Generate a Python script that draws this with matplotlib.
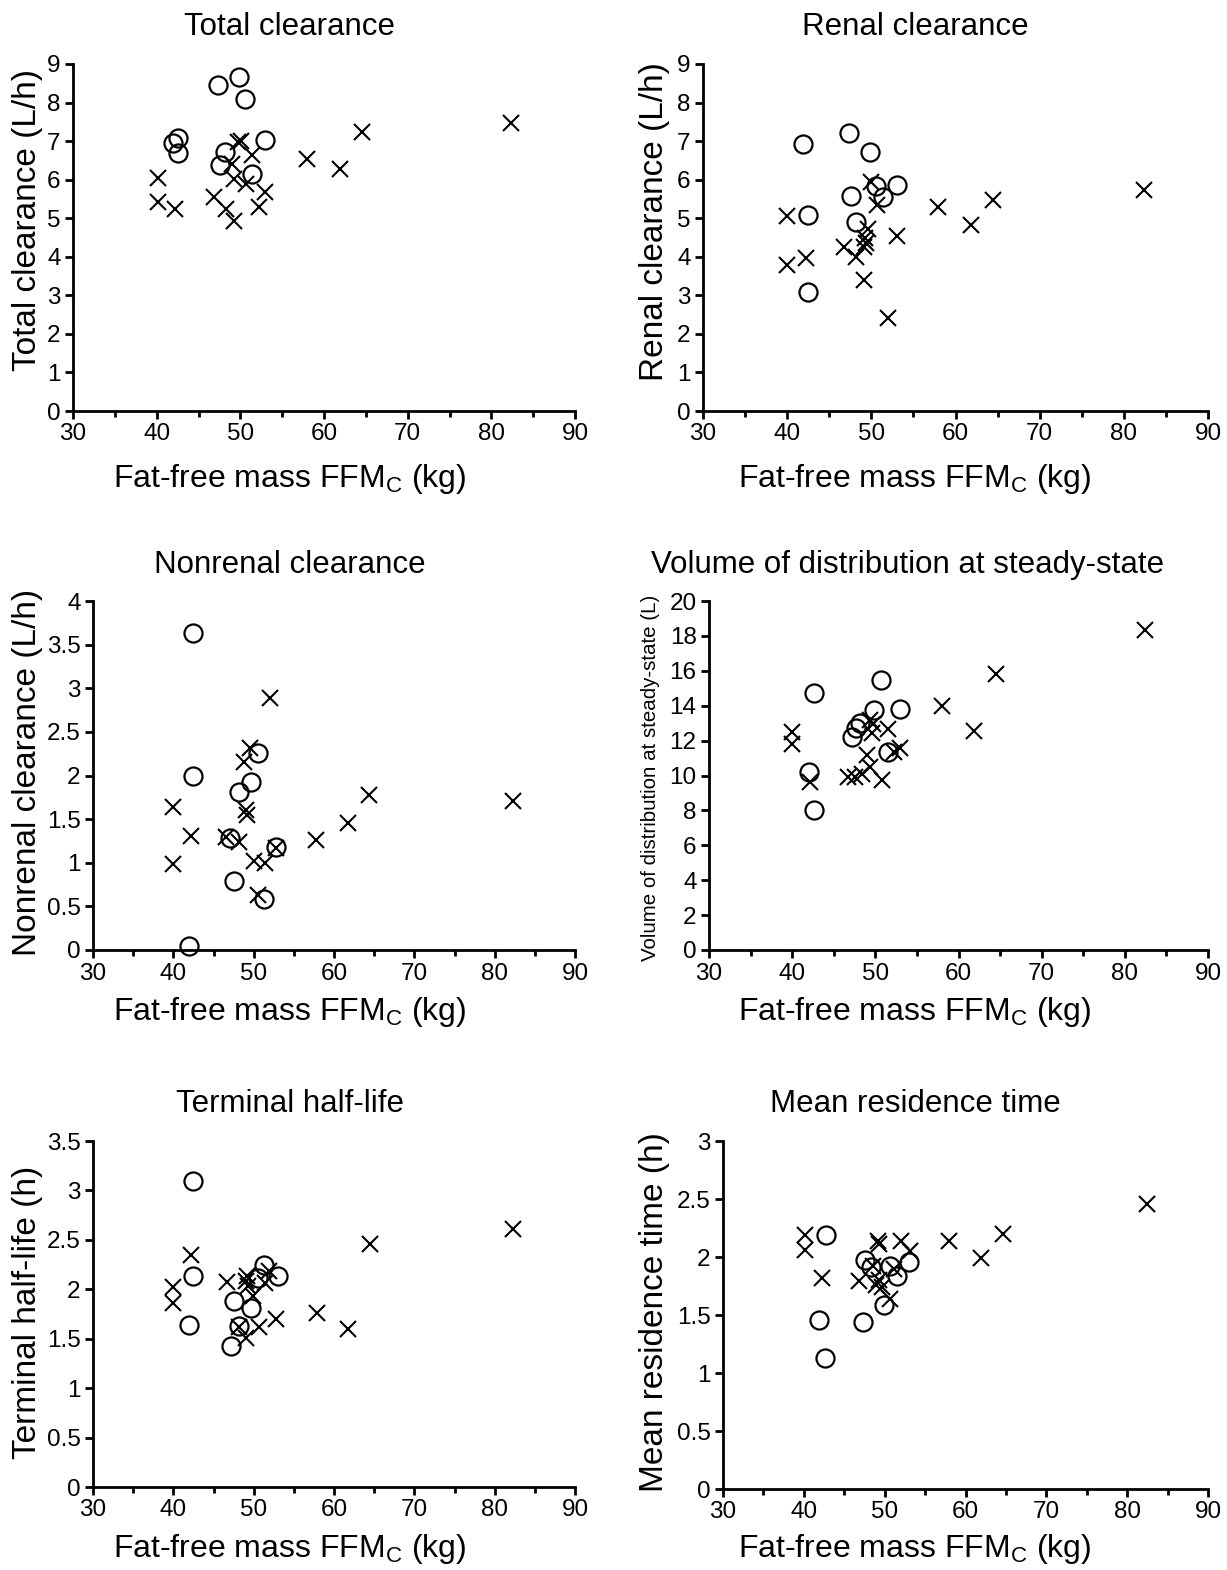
import matplotlib
matplotlib.use("Agg")
import matplotlib.pyplot as plt
from matplotlib.ticker import MultipleLocator, FuncFormatter

plt.rcParams['font.family'] = ['Liberation Sans', 'DejaVu Sans']
plt.rcParams['mathtext.fontset'] = 'custom'
plt.rcParams['mathtext.rm'] = 'Liberation Sans'

# fat-free mass (kg) and parameter values, circles / crosses per panel
cl_tot_ffm_o = [42.0, 42.6, 42.6, 47.3, 47.6, 48.2, 49.9, 50.6, 51.4, 53.0]
cl_tot_o = [6.96, 7.09, 6.70, 8.45, 6.38, 6.72, 8.65, 8.09, 6.15, 7.04]
cl_tot_ffm_x = [40.1, 40.1, 42.2, 46.8, 48.3, 49.3, 49.0, 49.2, 49.7, 50.1,
                50.7, 51.4, 52.2, 52.9, 58.0, 61.9, 64.5, 82.4]
cl_tot_x = [6.05, 5.43, 5.25, 5.56, 5.24, 4.93, 6.40, 6.03, 6.98, 7.00,
            5.90, 6.64, 5.30, 5.69, 6.53, 6.27, 7.24, 7.46]

cl_ren_ffm_o = [41.9, 47.3, 49.8, 50.5, 53.0, 51.4, 47.6, 48.2, 42.5, 42.5]
cl_ren_o = [6.92, 7.20, 6.73, 5.84, 5.87, 5.54, 5.58, 4.91, 5.09, 3.08]
cl_ren_ffm_x = [40.0, 40.0, 42.2, 46.7, 48.2, 49.1, 49.3, 49.6, 49.4, 49.1,
                50.0, 50.7, 53.0, 52.0, 57.9, 61.9, 64.5, 82.4]
cl_ren_x = [5.07, 3.78, 3.97, 4.25, 4.00, 4.25, 4.48, 4.73, 4.35, 3.39,
            5.93, 5.33, 4.55, 2.41, 5.28, 4.83, 5.46, 5.74]

cl_nr_ffm_o = [42.5, 42.5, 50.6, 49.7, 48.2, 47.1, 52.8, 47.6, 51.3, 42.0]
cl_nr_o = [3.63, 1.99, 2.26, 1.93, 1.81, 1.28, 1.18, 0.79, 0.59, 0.05]
cl_nr_ffm_x = [40.0, 40.0, 42.2, 46.5, 48.2, 48.8, 49.6, 49.1, 49.2, 50.0,
               51.4, 50.6, 52.0, 52.8, 57.8, 61.8, 64.4, 82.3]
cl_nr_x = [1.64, 0.98, 1.31, 1.29, 1.24, 2.16, 2.31, 1.60, 1.55, 1.02,
           1.00, 0.63, 2.89, 1.17, 1.26, 1.46, 1.78, 1.71]

vss_ffm_o = [42.6, 50.7, 49.8, 53.0, 48.2, 47.7, 47.2, 51.5, 42.0, 42.6]
vss_o = [14.72, 15.45, 13.77, 13.81, 13.0, 12.7, 12.2, 11.33, 10.19, 8.0]
vss_ffm_x = [40.0, 40.0, 42.2, 46.7, 47.5, 48.4, 49.3, 49.0, 49.6, 49.7,
             49.3, 50.8, 51.5, 52.3, 53.0, 58.0, 61.9, 64.5, 82.4]
vss_x = [12.5, 11.83, 9.62, 9.92, 9.92, 10.06, 10.5, 11.2, 12.44, 12.97,
         13.2, 9.73, 12.69, 11.33, 11.58, 13.96, 12.53, 15.83, 18.34]

t_half_ffm_o = [42.5, 42.5, 42.0, 51.3, 53.0, 50.5, 47.5, 49.7, 48.2, 47.2]
t_half_o = [3.10, 2.13, 1.64, 2.25, 2.13, 2.11, 1.88, 1.81, 1.63, 1.43]
t_half_ffm_x = [40.0, 40.0, 42.2, 46.7, 48.2, 49.0, 49.1, 49.2, 49.3, 49.9,
                50.7, 51.4, 51.9, 52.8, 57.9, 61.8, 64.5, 82.3]
t_half_x = [2.02, 1.86, 2.35, 2.07, 1.62, 1.51, 2.08, 2.13, 2.03, 1.93,
            1.62, 2.06, 2.18, 1.70, 1.76, 1.60, 2.46, 2.61]

mrt_ffm_o = [42.7, 41.9, 42.6, 47.3, 47.6, 48.3, 50.6, 51.5, 53.0, 49.9]
mrt_o = [2.19, 1.46, 1.13, 1.44, 1.97, 1.91, 1.92, 1.84, 1.96, 1.59]
mrt_ffm_x = [40.1, 40.1, 42.3, 46.8, 49.2, 49.3, 48.9, 49.3, 50.6, 51.1,
             52.0, 53.1, 58.0, 61.9, 64.6, 82.4, 48.6, 49.7]
mrt_x = [2.19, 2.06, 1.82, 1.79, 2.14, 2.11, 1.76, 1.80, 1.64, 1.90,
         2.14, 2.05, 2.14, 1.99, 2.20, 2.46, 1.92, 1.74]

W, H = 1227, 1570

panels = [
    # title, ylabel, data, ymax, ystep, axes box (px: left, right, top, bottom),
    # title pos, ylabel pos, ylabel size
    ("Total clearance", "Total clearance (L/h)",
     (cl_tot_ffm_o, cl_tot_o, cl_tot_ffm_x, cl_tot_x), 9, 1,
     (73, 575, 64, 411), (290, 35), (28, 220), 24),
    ("Renal clearance", "Renal clearance (L/h)",
     (cl_ren_ffm_o, cl_ren_o, cl_ren_ffm_x, cl_ren_x), 9, 1,
     (703, 1208, 64, 411), (915, 35), (655, 222), 24),
    ("Nonrenal clearance", "Nonrenal clearance (L/h)",
     (cl_nr_ffm_o, cl_nr_o, cl_nr_ffm_x, cl_nr_x), 4, 0.5,
     (93, 575, 601, 950), (290, 573), (28, 772), 24),
    ("Volume of distribution at steady-state",
     "Volume of distribution at steady-state (L)",
     (vss_ffm_o, vss_o, vss_ffm_x, vss_x), 20, 2,
     (709, 1208, 601, 950), (908, 573), (651, 778), 14.8),
    ("Terminal half-life", "Terminal half-life (h)",
     (t_half_ffm_o, t_half_o, t_half_ffm_x, t_half_x), 3.5, 0.5,
     (93, 575, 1141, 1487), (290, 1112), (28, 1312), 24),
    ("Mean residence time", "Mean residence time (h)",
     (mrt_ffm_o, mrt_o, mrt_ffm_x, mrt_x), 3, 0.5,
     (723, 1208, 1141, 1489), (915, 1112), (655, 1312), 24),
]

xlabel_pos = [(290, 487), (915, 487), (290, 1020), (915, 1020),
              (290, 1557), (915, 1557)]

fig = plt.figure(figsize=(W / 100, H / 100), dpi=100)
fmt = FuncFormatter(lambda v, p: "{:g}".format(v))

for i, (title, ylab, (xo, yo, xx, yx), ymax, ystep, box, tpos, ypos, yfs) in enumerate(panels):
    l, r, t, b = box
    ax = fig.add_axes([l / W, 1 - b / H, (r - l) / W, (b - t) / H])
    ax.plot(xo, yo, 'o', ms=13, mfc='none', mec='black', mew=1.6, clip_on=False)
    ax.plot(xx, yx, 'x', ms=11, mec='black', mew=1.5, clip_on=False)
    ax.set_xlim(30, 90)
    ax.set_ylim(0, ymax)
    ax.xaxis.set_major_locator(MultipleLocator(10))
    ax.xaxis.set_minor_locator(MultipleLocator(5))
    ax.yaxis.set_major_locator(MultipleLocator(ystep))
    ax.yaxis.set_major_formatter(fmt)
    for s in ("top", "right"):
        ax.spines[s].set_visible(False)
    for s in ("left", "bottom"):
        ax.spines[s].set_linewidth(2)
    ax.tick_params(which='major', direction='out', length=6, width=2,
                   labelsize=17.5, pad=3)
    ax.tick_params(which='minor', direction='out', length=4, width=2)
    fig.text(tpos[0] / W, 1 - tpos[1] / H, title, ha='center',
             va='baseline', fontsize=22.5)
    fig.text(ypos[0] / W, 1 - ypos[1] / H, ylab, ha='center', va='center',
             rotation=90, fontsize=yfs)
    xl = xlabel_pos[i]
    fig.text(xl[0] / W, 1 - xl[1] / H,
             r"Fat-free mass FFM$_\mathregular{C}$ (kg)",
             ha='center', va='baseline', fontsize=23)

fig.savefig("out.png", dpi=100)
